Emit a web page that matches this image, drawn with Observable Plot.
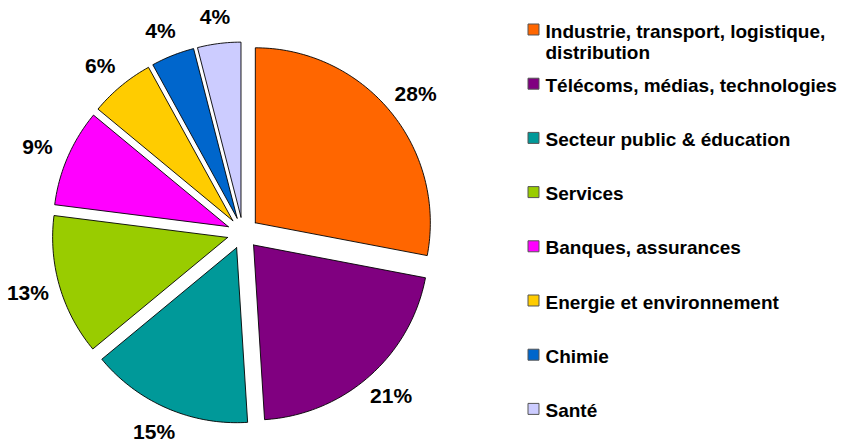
<!DOCTYPE html>
<html>
<head>
<meta charset="utf-8">
<script src="https://cdn.jsdelivr.net/npm/d3@7"></script>
<script src="https://cdn.jsdelivr.net/npm/@observablehq/plot@0.6"></script>
<style>
  html, body { margin: 0; padding: 0; background: #fff; }
  #chart { width: 845px; height: 444px; }
</style>
</head>
<body>
<div id="chart"></div>
<script>
// ---- data ----
const categories = [
  "Industrie, transport, logistique,\ndistribution",
  "Télécoms, médias, technologies",
  "Secteur public & éducation",
  "Services",
  "Banques, assurances",
  "Energie et environnement",
  "Chimie",
  "Santé"
];
const values = [28, 21, 15, 13, 9, 6, 4, 4];
const colors = ["#FF6600", "#800080", "#009999", "#99CC00", "#FF00FF", "#FFCC00", "#0066CC", "#CCCCFF"];
const pctLabels = values.map(v => v + "%");

// ---- layout ----
const W = 845, H = 444;
const cx = 242.5, cy = 232.5, R = 175, explode = 16, labelRx = 224, labelRy = 217;
const legendX = 533, legendY0 = 29, legendStep = 54.2;

const arcs = d3.pie().sort(null).startAngle(0).endAngle(2 * Math.PI)(values);
const pt = (a, r, ox, oy) => [ox + r * Math.sin(a), oy - r * Math.cos(a)];

const slicePts = [];
arcs.forEach((a, i) => {
  const mid = (a.startAngle + a.endAngle) / 2;
  const [ox, oy] = pt(mid, explode, cx, cy);
  const n = Math.max(4, Math.ceil((a.endAngle - a.startAngle) / 0.02));
  const ring = [[ox, oy]];
  for (let k = 0; k <= n; k++) {
    const t = a.startAngle + (a.endAngle - a.startAngle) * k / n;
    ring.push(pt(t, R, ox, oy));
  }
  ring.push([ox, oy]);
  ring.forEach(([x, y], j) => slicePts.push({cat: categories[i], x, y, j}));
});

const labelData = arcs.map((a, i) => {
  const mid = (a.startAngle + a.endAngle) / 2;
  return {x: cx + labelRx * Math.sin(mid), y: cy - labelRy * Math.cos(mid), label: pctLabels[i]};
});

const legendData = categories.map((c, i) => ({cat: c, x: legendX, y: legendY0 + legendStep * i}));

const chart = Plot.plot({
  width: W,
  height: H,
  margin: 0,
  x: {domain: [0, W], range: [0, W], axis: null},
  y: {domain: [0, H], range: [0, H], axis: null},
  color: {domain: categories, range: colors},
  style: {fontFamily: "'Liberation Sans', Arial, sans-serif", background: "#fff"},
  marks: [
    Plot.line(slicePts, {x: "x", y: "y", z: "cat", fill: "cat", stroke: "#000", strokeWidth: 0.9, strokeLinejoin: "miter", curve: "linear"}),
    Plot.text(labelData, {x: "x", y: "y", text: "label", fontSize: 21, fontWeight: "bold", fill: "#000"}),
    Plot.dot(legendData, {x: "x", y: "y", symbol: "square", r: 6.2, fill: "cat", stroke: "#555", strokeWidth: 1}),
    Plot.text(legendData, {x: "x", y: "y", text: "cat", dx: 12, dy: -7, textAnchor: "start", lineAnchor: "top", lineHeight: 1.12, fontSize: 19, fontWeight: "bold", fill: "#000"})
  ]
});
document.getElementById("chart").appendChild(chart);
</script>
</body>
</html>
